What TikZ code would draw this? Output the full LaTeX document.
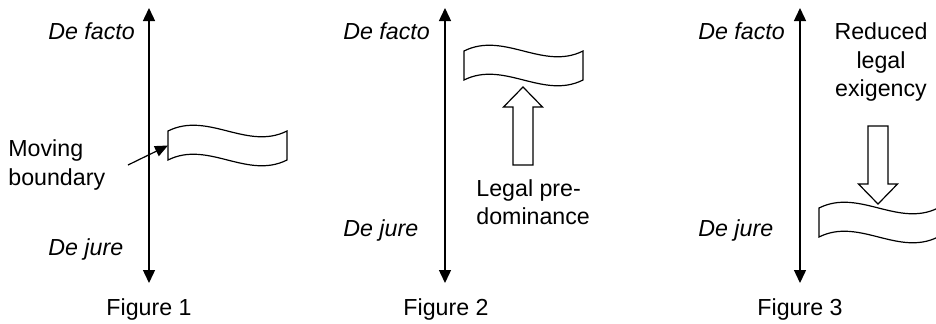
\documentclass[tikz,border=0pt]{standalone}
\usepackage{fontspec}
\setmainfont{Liberation Sans}
\usepackage{tikz}
\usetikzlibrary{arrows.meta, positioning}
\usepackage{tkz-euclide}

\tikzset{
  axis/.style={line width=0.7pt,
    {Triangle[width=6pt,length=6.5pt]}-{Triangle[width=6pt,length=6.5pt]}},
  lbl/.style={inner sep=0pt, font=\fontsize{11.6}{14.3}\selectfont},
  slant/.style={inner sep=0pt, font=\fontsize{11.6}{14.3}\selectfont\itshape},
  pointer/.style={line width=0.6pt, -{Triangle[width=5.5pt,length=6.5pt]}},
  banner/.pic={
    \draw[line width=0.6pt] (0,0) .. controls (40,-20) and (79,20) .. (119,0)
      -- (119,29) .. controls (79,49) and (40,9) .. (0,29) -- cycle;
    \coordinate (-west) at (0,14.5);
  },
  hollow/.pic={
    \draw[line width=0.6pt] (0,0) -- (19.5,20) -- (10,20) -- (10,78)
      -- (-10,78) -- (-10,20) -- (-19.5,20) -- cycle;
  }
}

\begin{document}
\begin{tikzpicture}[x=0.5pt,y=-0.5pt]
\useasboundingbox (0,0) rectangle (936,323);
\tkzDefPoints{149/8/T1, 149/283/B1, 445/8/T2, 445/283/B2, 800/8/T3, 800/283/B3}
% Figure 1
\draw[axis] (T1) -- (B1);
\node[slant, anchor=base west] (f1) at (48,39) {De facto};
\node[slant, anchor=base west] (j1) at (48,255) {De jure};
\pic (b1) at (168,131) {banner};
\node[lbl, align=left, anchor=west] (mb) at (8,165) {Moving\\boundary};
\coordinate (mbtail) at (128,165);
\draw[pointer] (mbtail) -- (b1-west);
\node[lbl, anchor=base] (c1) at (149,315) {Figure 1};
% Figure 2
\draw[axis] (T2) -- (B2);
\node[slant, anchor=base west] (f2) at (343,39) {De facto};
\node[slant, anchor=base west] (j2) at (343,236) {De jure};
\pic (b2) at (464,51) {banner};
\pic (up) at (523,87) {hollow};
\node[lbl, align=left, anchor=west] (lp) at (476,202) {Legal pre-\\dominance};
\node[lbl, anchor=base] (c2) at (446,315) {Figure 2};
% Figure 3
\draw[axis] (T3) -- (B3);
\node[slant, anchor=base west] (f3) at (698,39) {De facto};
\node[slant, anchor=base west] (j3) at (698,236) {De jure};
\node[lbl, align=center] (rle) at (881,62) {Reduced\\legal\\exigency};
\pic[rotate=180] (down) at (878,204) {hollow};
\pic (b3) at (819,208) {banner};
\node[lbl, anchor=base] (c3) at (800,315) {Figure 3};
\end{tikzpicture}
\end{document}
